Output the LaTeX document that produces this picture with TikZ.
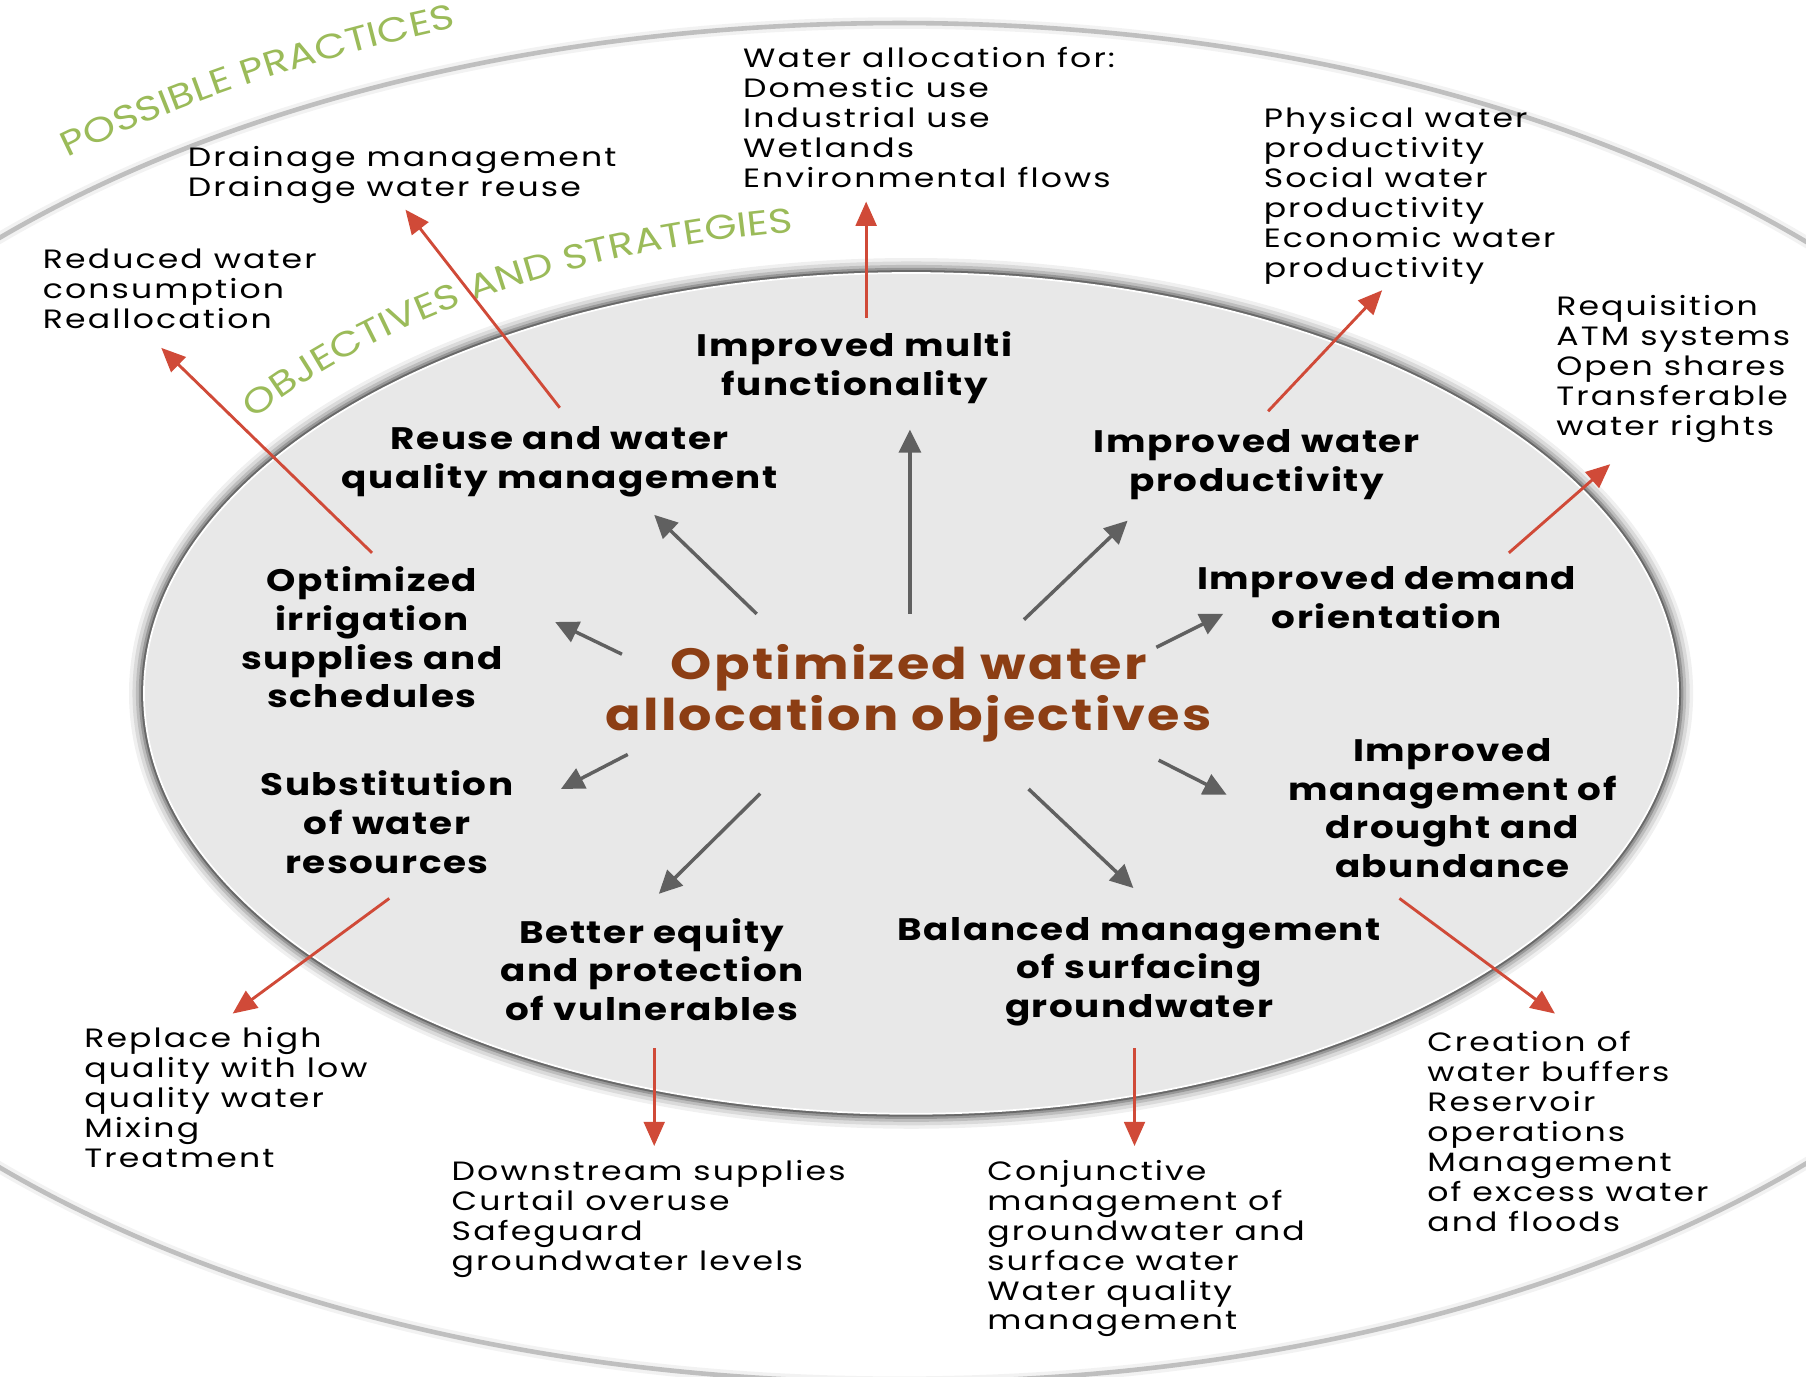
\documentclass[tikz,border=0pt]{standalone}
\usepackage{fontspec}
\setmainfont{Poppins}
\newfontfamily\practicefamily{Poppins}[FakeStretch=1.25,LetterSpace=8]
\newfontfamily\objfamily{Poppins}[FakeStretch=1.2,LetterSpace=5]
\newfontfamily\ringfamily{Poppins}[FakeStretch=1.2]
\usetikzlibrary{arrows.meta,decorations.text}
\definecolor{arrowred}{RGB}{208,74,56}
\definecolor{arrowgray}{RGB}{96,96,96}
\definecolor{goalbrown}{RGB}{140,62,20}
\definecolor{ringgreen}{RGB}{155,187,89}
\definecolor{innergray}{RGB}{232,232,232}
\newcommand\ringfont{\ringfamily\fontsize{30}{30}\selectfont\color{ringgreen}}

\tikzset{
  practice/.style={align=left,anchor=north west,inner sep=0pt,
    font=\practicefamily\fontsize{23}{26}\selectfont},
  objective/.style={align=center,anchor=north,inner sep=0pt,
    font=\objfamily\bfseries\fontsize{27}{33.6}\selectfont},
  grayarrow/.style={draw=arrowgray,line width=3pt,
    -{Triangle[length=20pt,width=19pt]}},
  redarrow/.style={draw=arrowred,line width=2.5pt,
    -{Triangle[length=21pt,width=18pt]}}
}

\begin{document}
\begin{tikzpicture}[x=1pt,y=-1pt]
\useasboundingbox (0,0) rectangle (1568,1195);
\clip (0,0) rectangle (1568,1195);
\fill[white] (0,0) rectangle (1568,1195);

% outer ring
\draw[line width=10pt,black,opacity=0.05] (781,610) ellipse[x radius=1071,y radius=590];
\draw[line width=4pt,black!25] (781,610) ellipse[x radius=1071,y radius=590];

% inner disc with shadow
\foreach \w/\o in {26/0.06,20/0.09,14/0.13,9/0.2,5/0.3}
  \draw[line width=\w pt,black,opacity=\o] (791,602) ellipse[x radius=666,y radius=365];
\fill[innergray] (791,602) ellipse[x radius=666,y radius=365];
\draw[white,line width=1.5pt] (791,602) ellipse[x radius=666,y radius=365];

% ring titles
\path[decorate,decoration={text along path,text={|\ringfont|POSSIBLE PRACTICES}}]
  (59,137) arc[start angle=229,end angle=278,x radius=1101,y radius=620];
\path[decorate,decoration={text along path,text={|\ringfont|OBJECTIVES AND STRATEGIES}}]
  (220,364) arc[start angle=216,end angle=280,x radius=706,y radius=405];

% centre
\node[align=center,inner sep=0pt,text=goalbrown,
  font=\objfamily\bfseries\fontsize{38}{44}\selectfont] (goal) at (789,602)
  {Optimized water\\allocation objectives};

% objectives
\node[objective] (multi) at (742,288) {Improved multi\\functionality};
\node[objective] (reuse) at (486,370) {Reuse and water\\quality management};
\node[objective] (prod) at (1091,373) {Improved water\\productivity};
\node[objective] (irrig) at (323,492) {Optimized\\irrigation\\supplies and\\schedules};
\node[objective] (demand) at (1204,492) {Improved demand\\orientation};
\node[objective] (subst) at (336,669) {Substitution\\of water\\resources};
\node[objective] (drought) at (1261,641) {Improved\\management of\\drought and\\abundance};
\node[objective] (equity) at (566,797) {Better equity\\and protection\\of vulnerables};
\node[objective] (balance) at (989,796) {Balanced management\\of surfacing\\groundwater};

% practices
\node[practice] (alloc) at (645,41) {Water allocation for:\\Domestic use\\Industrial use\\Wetlands\\Environmental flows};
\node[practice] (drain) at (163,127) {Drainage management\\Drainage water reuse};
\node[practice] (reduce) at (37,216) {Reduced water\\consumption\\Reallocation};
\node[practice] (physical) at (1097,93) {Physical water\\productivity\\Social water\\productivity\\Economic water\\productivity};
\node[practice] (requis) at (1351,256) {Requisition\\ATM systems\\Open shares\\Transferable\\water rights};
\node[practice] (replace) at (73,892) {Replace high\\quality with low\\quality water\\Mixing\\Treatment};
\node[practice] (downstream) at (392,1007) {Downstream supplies\\Curtail overuse\\Safeguard\\groundwater levels};
\node[practice] (conjunct) at (857,1007) {Conjunctive\\management of\\groundwater and\\surface water\\Water quality\\management};
\node[practice] (buffers) at (1239,895) {Creation of\\water buffers\\Reservoir\\operations\\Management\\of excess water\\and floods};

% arrow ends
\coordinate (g1a) at (790,533);  \coordinate (g1b) at (790,373);
\coordinate (g2a) at (657,533);  \coordinate (g2b) at (568,447);
\coordinate (g3a) at (889,538);  \coordinate (g3b) at (979,452);
\coordinate (g4a) at (540,568);  \coordinate (g4b) at (482,540);
\coordinate (g5a) at (1004,562); \coordinate (g5b) at (1062,533);
\coordinate (g6a) at (545,655);  \coordinate (g6b) at (487,685);
\coordinate (g7a) at (1006,660); \coordinate (g7b) at (1065,690);
\coordinate (g8a) at (660,689);  \coordinate (g8b) at (572,776);
\coordinate (g9a) at (893,685);  \coordinate (g9b) at (984,771);

\coordinate (r1a) at (752,276);  \coordinate (r1b) at (752,175);
\coordinate (r2a) at (486,354);  \coordinate (r2b) at (352,182);
\coordinate (r3a) at (323,480);  \coordinate (r3b) at (140,302);
\coordinate (r4a) at (1101,357); \coordinate (r4b) at (1200,252);
\coordinate (r5a) at (1310,480); \coordinate (r5b) at (1398,403);
\coordinate (r6a) at (338,780);  \coordinate (r6b) at (202,880);
\coordinate (r7a) at (568,910);  \coordinate (r7b) at (568,995);
\coordinate (r8a) at (985,910);  \coordinate (r8b) at (985,995);
\coordinate (r9a) at (1215,780); \coordinate (r9b) at (1350,880);

% centre to objectives
\foreach \i in {1,...,9}
  \draw[grayarrow] (g\i a) -- (g\i b);

% objectives to practices
\foreach \i in {1,...,9}
  \draw[redarrow] (r\i a) -- (r\i b);
\end{tikzpicture}
\end{document}
